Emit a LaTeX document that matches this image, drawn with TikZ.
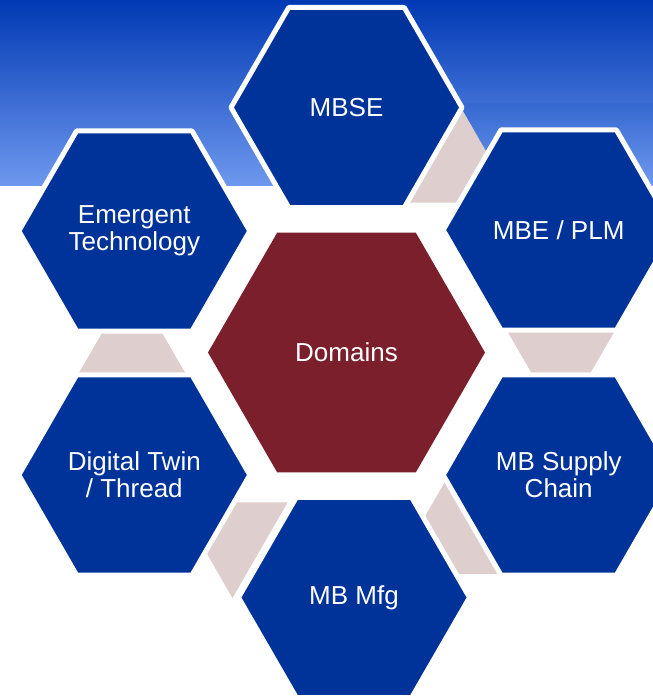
\documentclass[tikz,border=0pt]{standalone}
\usepackage{fontspec}
\setmainfont{Liberation Sans}
\usepackage{tikz}
\usetikzlibrary{shapes.geometric}
\definecolor{qqttzz}{rgb}{0.,0.2,0.6}
\definecolor{rrqqdd}{rgb}{0.48,0.12,0.17}
\definecolor{ddcccc}{rgb}{0.875,0.808,0.808}
\definecolor{qqddbb}{rgb}{0.,0.224,0.706}
\definecolor{ggjjee}{rgb}{0.431,0.596,0.933}
\definecolor{bbjjtt}{rgb}{0.21,0.41,0.815}
\tikzstyle{every node}=[font=\fontsize{19.5}{20}\selectfont,text=white,align=center]
\tikzstyle{hexa}=[regular polygon,regular polygon sides=6,inner sep=0pt,minimum size=173.25pt,fill=qqttzz,draw=white,line width=3.75pt]
\tikzstyle{hexbig}=[regular polygon,regular polygon sides=6,inner sep=0pt,minimum size=207.75pt,fill=rrqqdd]

\begin{document}
\begin{tikzpicture}[line cap=round,line join=round,x=0.75pt,y=-0.75pt]
            \useasboundingbox (0,0) rectangle (653,697);
            \clip(0,0) rectangle (653,697);
            \shade [top color=qqddbb,bottom color=ggjjee] (0,0) rectangle (653,185);
            \shade [top color=bbjjtt,bottom color=ggjjee] (463,103) rectangle (653,185);
            \coordinate (c) at (346.5,352.5);
            \foreach \a in {0,60,180,240,300}
              \fill [color=ddcccc,shift={(c)},rotate=\a] (159.2,-24) -- (269.7,-24) -- (241.9,24) -- (187,24) -- cycle;
            \node [hexa] (mbse) at (346.5,107.5) {MBSE};
            \node [hexa] (mbe) at (558.7,230) {MBE / PLM};
            \node [hexa] (supply) at (558.7,475) {MB Supply\\Chain};
            \node [hexa] (mfg) at (354,597.5) {MB Mfg};
            \node [hexa] (twin) at (134.3,475) {Digital Twin\\/ Thread};
            \node [hexa] (emerg) at (134.3,231) {Emergent\\Technology};
            \node [hexbig] (dom) at (c) {Domains};
            \end{tikzpicture}
\end{document}
